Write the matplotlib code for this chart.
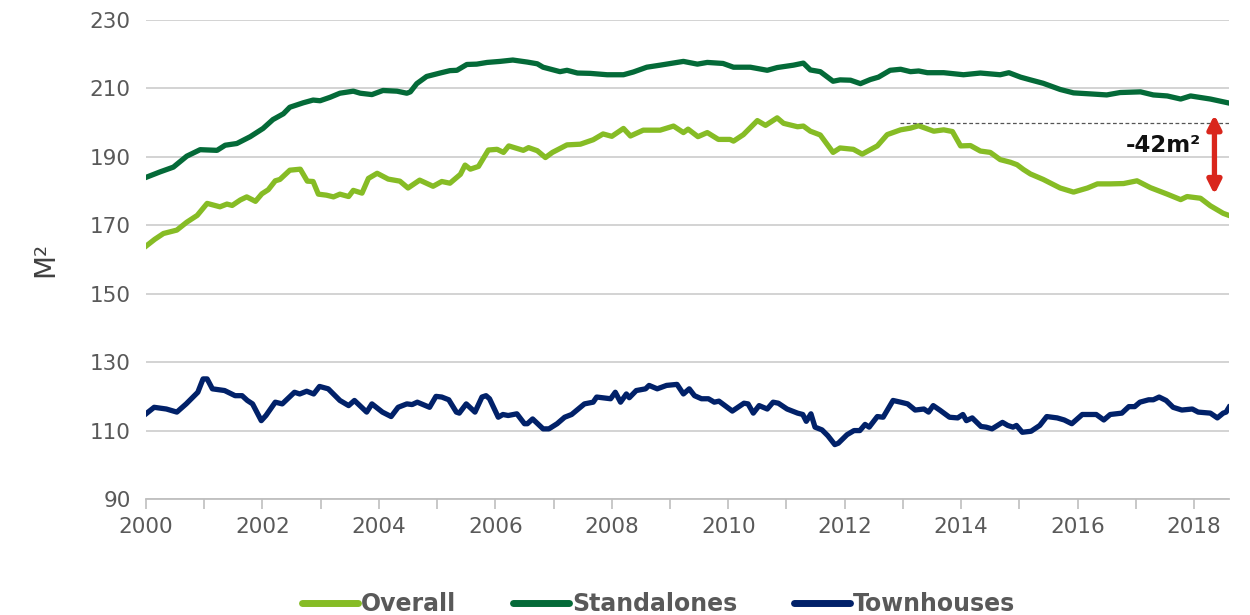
import matplotlib
matplotlib.use("Agg")
import matplotlib.pyplot as plt

# ---------------- data ----------------
standalones_year = [2000.0, 2000.24, 2000.47, 2000.7, 2000.93, 2001.22, 2001.36, 2001.56, 2001.79, 2002.01,
                    2002.18, 2002.36, 2002.47, 2002.7, 2002.87, 2002.99, 2003.16, 2003.33, 2003.56, 2003.68,
                    2003.88, 2004.07, 2004.31, 2004.48, 2004.54, 2004.65, 2004.82, 2005.05, 2005.22, 2005.34,
                    2005.51, 2005.68, 2005.86, 2006.08, 2006.3, 2006.55, 2006.72, 2006.82, 2007.11, 2007.23,
                    2007.41, 2007.63, 2007.92, 2008.2, 2008.37, 2008.6, 2008.83, 2009.12, 2009.23, 2009.47,
                    2009.64, 2009.91, 2010.09, 2010.38, 2010.67, 2010.84, 2011.12, 2011.29, 2011.41, 2011.58,
                    2011.8, 2011.92, 2012.1, 2012.27, 2012.44, 2012.58, 2012.78, 2012.96, 2013.13, 2013.27,
                    2013.42, 2013.7, 2014.04, 2014.33, 2014.67, 2014.82, 2015.02, 2015.19, 2015.41, 2015.7,
                    2015.93, 2016.22, 2016.5, 2016.73, 2017.08, 2017.3, 2017.54, 2017.77, 2017.94, 2018.28,
                    2018.58]
standalones = [184.0, 185.6, 187.0, 190.2, 192.1, 191.9, 193.4, 193.9, 195.9, 198.3,
               200.9, 202.6, 204.5, 205.8, 206.6, 206.4, 207.4, 208.6, 209.2, 208.6,
               208.2, 209.4, 209.2, 208.6, 209.0, 211.4, 213.5, 214.5, 215.2, 215.3,
               217.0, 217.1, 217.6, 217.9, 218.3, 217.7, 217.2, 216.2, 214.9, 215.3,
               214.5, 214.4, 214.0, 214.0, 214.8, 216.2, 216.8, 217.6, 217.9, 217.1,
               217.6, 217.3, 216.2, 216.2, 215.3, 216.1, 216.8, 217.4, 215.4, 214.9,
               212.1, 212.5, 212.4, 211.4, 212.6, 213.3, 215.3, 215.6, 214.9, 215.1,
               214.6, 214.6, 214.0, 214.5, 214.0, 214.6, 213.3, 212.5, 211.5, 209.7,
               208.7, 208.4, 208.1, 208.8, 209.0, 208.1, 207.8, 206.9, 207.8, 206.9,
               205.8]

overall_year = [2000.0, 2000.15, 2000.3, 2000.53, 2000.7, 2000.88, 2001.05, 2001.27, 2001.39, 2001.48,
                2001.62, 2001.73, 2001.88, 2001.99, 2002.1, 2002.22, 2002.3, 2002.47, 2002.65, 2002.77,
                2002.87, 2002.96, 2003.1, 2003.22, 2003.33, 2003.48, 2003.56, 2003.71, 2003.82, 2003.97,
                2004.16, 2004.36, 2004.5, 2004.7, 2004.93, 2005.08, 2005.22, 2005.4, 2005.48, 2005.57,
                2005.71, 2005.88, 2006.03, 2006.14, 2006.23, 2006.48, 2006.57, 2006.72, 2006.86, 2006.98,
                2007.23, 2007.46, 2007.68, 2007.85, 2008.0, 2008.2, 2008.32, 2008.54, 2008.83, 2009.06,
                2009.23, 2009.31, 2009.48, 2009.64, 2009.83, 2010.03, 2010.09, 2010.26, 2010.5, 2010.64,
                2010.84, 2010.95, 2011.19, 2011.29, 2011.41, 2011.58, 2011.8, 2011.92, 2012.15, 2012.3,
                2012.56, 2012.73, 2012.96, 2013.13, 2013.27, 2013.53, 2013.7, 2013.85, 2013.99, 2014.16,
                2014.33, 2014.5, 2014.67, 2014.85, 2014.96, 2015.07, 2015.19, 2015.41, 2015.7, 2015.93,
                2016.17, 2016.34, 2016.56, 2016.79, 2017.02, 2017.25, 2017.54, 2017.77, 2017.88, 2018.11,
                2018.28, 2018.5, 2018.58]
overall = [163.9, 165.9, 167.6, 168.6, 170.9, 172.9, 176.4, 175.4, 176.2, 175.8,
           177.4, 178.3, 177.0, 179.2, 180.4, 183.0, 183.4, 186.1, 186.4, 182.9,
           182.8, 179.1, 178.8, 178.3, 179.1, 178.4, 180.2, 179.4, 183.7, 185.2,
           183.5, 182.9, 180.9, 183.2, 181.4, 182.8, 182.3, 184.9, 187.6, 186.4,
           187.2, 192.0, 192.2, 191.3, 193.2, 191.9, 192.7, 191.8, 189.8, 191.3,
           193.5, 193.7, 195.0, 196.7, 196.0, 198.3, 196.1, 197.8, 197.8, 199.0,
           197.1, 198.1, 195.9, 197.1, 195.1, 195.1, 194.6, 196.5, 200.6, 199.2,
           201.4, 199.8, 198.8, 199.0, 197.5, 196.4, 191.3, 192.6, 192.2, 190.8,
           193.2, 196.5, 197.9, 198.4, 199.1, 197.5, 197.9, 197.4, 193.2, 193.3,
           191.7, 191.3, 189.2, 188.4, 187.7, 186.3, 185.0, 183.4, 180.9, 179.7,
           180.9, 182.1, 182.1, 182.2, 183.0, 181.0, 179.1, 177.5, 178.4, 177.9,
           175.7, 173.5, 173.0]

townhouses_year = [2000.0, 2000.14, 2000.35, 2000.53, 2000.69, 2000.83, 2000.89, 2000.98, 2001.05, 2001.14,
                   2001.35, 2001.53, 2001.65, 2001.74, 2001.83, 2001.98, 2002.06, 2002.22, 2002.34, 2002.55,
                   2002.64, 2002.76, 2002.88, 2002.98, 2003.13, 2003.33, 2003.48, 2003.58, 2003.79, 2003.88,
                   2004.06, 2004.21, 2004.33, 2004.48, 2004.57, 2004.66, 2004.87, 2004.98, 2005.08, 2005.2,
                   2005.33, 2005.38, 2005.5, 2005.65, 2005.77, 2005.84, 2005.9, 2006.05, 2006.13, 2006.22,
                   2006.37, 2006.5, 2006.55, 2006.64, 2006.82, 2006.92, 2007.06, 2007.19, 2007.31, 2007.53,
                   2007.68, 2007.74, 2007.98, 2008.06, 2008.15, 2008.25, 2008.3, 2008.42, 2008.58, 2008.64,
                   2008.78, 2008.94, 2009.12, 2009.23, 2009.33, 2009.42, 2009.54, 2009.66, 2009.76, 2009.84,
                   2010.07, 2010.27, 2010.34, 2010.43, 2010.53, 2010.67, 2010.77, 2010.86, 2011.01, 2011.19,
                   2011.28, 2011.34, 2011.42, 2011.49, 2011.61, 2011.71, 2011.83, 2011.89, 2012.04, 2012.16,
                   2012.26, 2012.35, 2012.42, 2012.56, 2012.66, 2012.83, 2012.96, 2013.08, 2013.21, 2013.36,
                   2013.44, 2013.52, 2013.64, 2013.8, 2013.94, 2014.03, 2014.09, 2014.19, 2014.34, 2014.43,
                   2014.53, 2014.71, 2014.8, 2014.89, 2014.95, 2015.05, 2015.2, 2015.35, 2015.47, 2015.65,
                   2015.77, 2015.9, 2016.08, 2016.32, 2016.45, 2016.56, 2016.76, 2016.88, 2016.98, 2017.07,
                   2017.22, 2017.3, 2017.4, 2017.52, 2017.64, 2017.79, 2017.97, 2018.07, 2018.28, 2018.4,
                   2018.5, 2018.55, 2018.6]
townhouses = [114.9, 116.8, 116.3, 115.4, 117.8, 120.2, 121.2, 125.1, 125.1, 122.2,
              121.7, 120.2, 120.2, 118.8, 117.8, 112.9, 114.4, 118.3, 117.8, 121.2,
              120.7, 121.5, 120.7, 122.9, 122.2, 118.8, 117.3, 118.8, 115.4, 117.8,
              115.4, 114.1, 116.8, 117.8, 117.6, 118.3, 116.8, 120.0, 119.8, 119.0,
              115.4, 115.1, 117.8, 115.4, 119.8, 120.2, 119.3, 113.9, 114.7, 114.4,
              114.9, 112.0, 112.0, 113.4, 110.5, 110.5, 112.0, 113.9, 114.7, 117.8,
              118.3, 119.8, 119.3, 121.2, 118.3, 120.7, 119.6, 121.7, 122.2, 123.2,
              122.2, 123.2, 123.5, 120.7, 122.2, 120.2, 119.3, 119.3, 118.3, 118.6,
              115.7, 118.0, 117.8, 115.1, 117.3, 116.3, 118.3, 118.0, 116.3, 115.1,
              114.7, 112.7, 114.9, 111.0, 110.2, 108.5, 105.9, 106.3, 108.8, 110.0,
              110.0, 111.8, 111.0, 114.1, 113.9, 118.8, 118.3, 117.8, 116.0, 116.3,
              115.4, 117.3, 115.9, 113.9, 113.7, 114.7, 112.9, 113.7, 111.2, 111.0,
              110.5, 112.4, 111.5, 111.0, 111.5, 109.5, 109.8, 111.5, 114.1, 113.7,
              113.1, 112.0, 114.7, 114.7, 113.1, 114.7, 115.1, 117.0, 117.0, 118.3,
              119.0, 119.0, 119.8, 118.8, 116.8, 116.0, 116.3, 115.4, 115.1, 113.7,
              115.1, 115.4, 116.8]

series_names = ["Overall", "Standalones", "Townhouses"]
y_ticks = [90, 110, 130, 150, 170, 190, 210, 230]
x_major_ticks = [2000, 2002, 2004, 2006, 2008, 2010, 2012, 2014, 2016, 2018]
x_minor_ticks = list(range(2001, 2019, 2))
annotation_text = "-42m²"
ref_level = 200.0          # dashed reference level
arrow_top, arrow_bottom = 202.3, 179.0
arrow_year = 2018.35
ref_start_year = 2012.95

# ---------------- style ----------------
c_overall = "#86BC25"
c_stand = "#046A38"
c_town = "#012169"
grey_txt = "#595959"

fig = plt.figure(figsize=(12.5, 6.15), dpi=100)
ax = fig.add_axes([146 / 1250, 1 - 499 / 615, (1229 - 146) / 1250, (499 - 20) / 615])

lw = 3.8
ax.plot(overall_year, overall, color=c_overall, lw=lw, solid_joinstyle="round", label=series_names[0], zorder=3)
ax.plot(standalones_year, standalones, color=c_stand, lw=lw, solid_joinstyle="round", label=series_names[1], zorder=3)
ax.plot(townhouses_year, townhouses, color=c_town, lw=lw, solid_joinstyle="round", label=series_names[2], zorder=3)

ax.set_xlim(2000, 2018.6)
ax.set_ylim(90, 230)
ax.set_yticks(y_ticks)
ax.set_xticks(x_major_ticks)
ax.set_xticks(x_minor_ticks, minor=True)

ax.grid(axis="y", color="#d0d0d0", lw=1.3, zorder=0)
ax.set_axisbelow(True)
for s in ["top", "right", "left"]:
    ax.spines[s].set_visible(False)
ax.spines["bottom"].set_color("#bfbfbf")
ax.spines["bottom"].set_linewidth(1.3)
ax.tick_params(axis="y", length=0, pad=11, labelsize=15.5, labelcolor=grey_txt)
ax.tick_params(axis="x", which="both", length=7, width=1.2, color="#bfbfbf", direction="out",
               labelsize=15.5, labelcolor=grey_txt, pad=6)

ax.set_ylabel("M²", fontsize=20, color="#404040", labelpad=22)

# annotation
ax.plot([ref_start_year, 2018.6], [ref_level, ref_level], ls=(0, (3, 2)), color="#555555", lw=0.9, zorder=4)
ax.annotate("", xy=(arrow_year, arrow_bottom), xytext=(arrow_year, arrow_top),
            arrowprops=dict(arrowstyle="<|-|>", color="#D9261C", lw=3.8,
                            mutation_scale=20, shrinkA=0, shrinkB=0), zorder=5)
ax.text(2018.12, 193.3, annotation_text, ha="right", va="center", fontsize=16.5, fontweight="bold",
        color="#111111")

leg = fig.legend(loc="center", bbox_to_anchor=(0.527, 1 - 604 / 615), ncol=3, frameon=False,
                 fontsize=17, handlelength=2.35, handletextpad=0.15, columnspacing=2.4)
for t in leg.get_texts():
    t.set_color(grey_txt)
    t.set_fontweight("bold")
for h in leg.get_lines():
    h.set_linewidth(5)
    h.set_solid_capstyle("round")

fig.savefig("out.png", dpi=100)
